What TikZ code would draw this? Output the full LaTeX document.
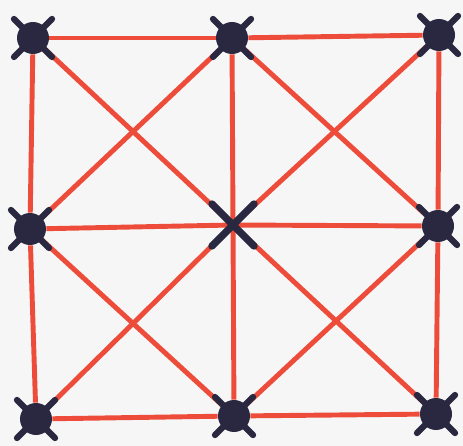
\documentclass[tikz,border=0pt]{standalone}
\definecolor{nodenavy}{RGB}{42,40,64}
\definecolor{edgered}{RGB}{238,76,58}
\definecolor{paper}{RGB}{246,246,246}
\begin{document}
\begin{tikzpicture}[
  x=0.02cm, y=-0.02cm,
  every node/.style={circle, fill=nodenavy, minimum size=0.64cm, inner sep=0pt},
  hub/.style={minimum size=0pt, fill=none},
  link/.style={edgered, line width=2.8pt},
  cross/.style={nodenavy, line width=3.6pt, line cap=round}
]
  % Paper
  \fill[paper] (0,0) rectangle (463,446);
  \useasboundingbox (0,0) rectangle (463,446);

  % Top row
  \node (tl) at (33, 38) {};
  \node (tm) at (232, 38) {};
  \node (tr) at (439, 35) {};

  % Middle row
  \node (ml) at (30, 229) {};
  \node[hub] (mc) at (233, 225) {};
  \node (mr) at (438, 226) {};

  % Bottom row
  \node (bl) at (36, 419) {};
  \node (bm) at (234, 416) {};
  \node (br) at (436, 414) {};

  % Grid and diagonals
  \foreach \i/\j in {tl/tm, tm/tr, ml/mc, mc/mr, bl/bm, bm/br,
                     tl/ml, ml/bl, tm/mc, mc/bm, tr/mr, mr/br,
                     tl/mc, tm/ml, tm/mr, tr/mc, ml/bm, mc/bl, mc/br, mr/bm}
    \draw[link] (\i) -- (\j);

  % Crosses
  \foreach \n in {tl, tm, tr, ml, mr, bl, bm, br}
    \draw[cross] (\n) ++(-19,-19) -- ++(38,38) ++(0,-38) -- ++(-38,38);
  \draw[cross, line width=4.2pt] (mc) ++(-21,-21) -- ++(42,42) ++(0,-42) -- ++(-42,42);
\end{tikzpicture}
\end{document}
